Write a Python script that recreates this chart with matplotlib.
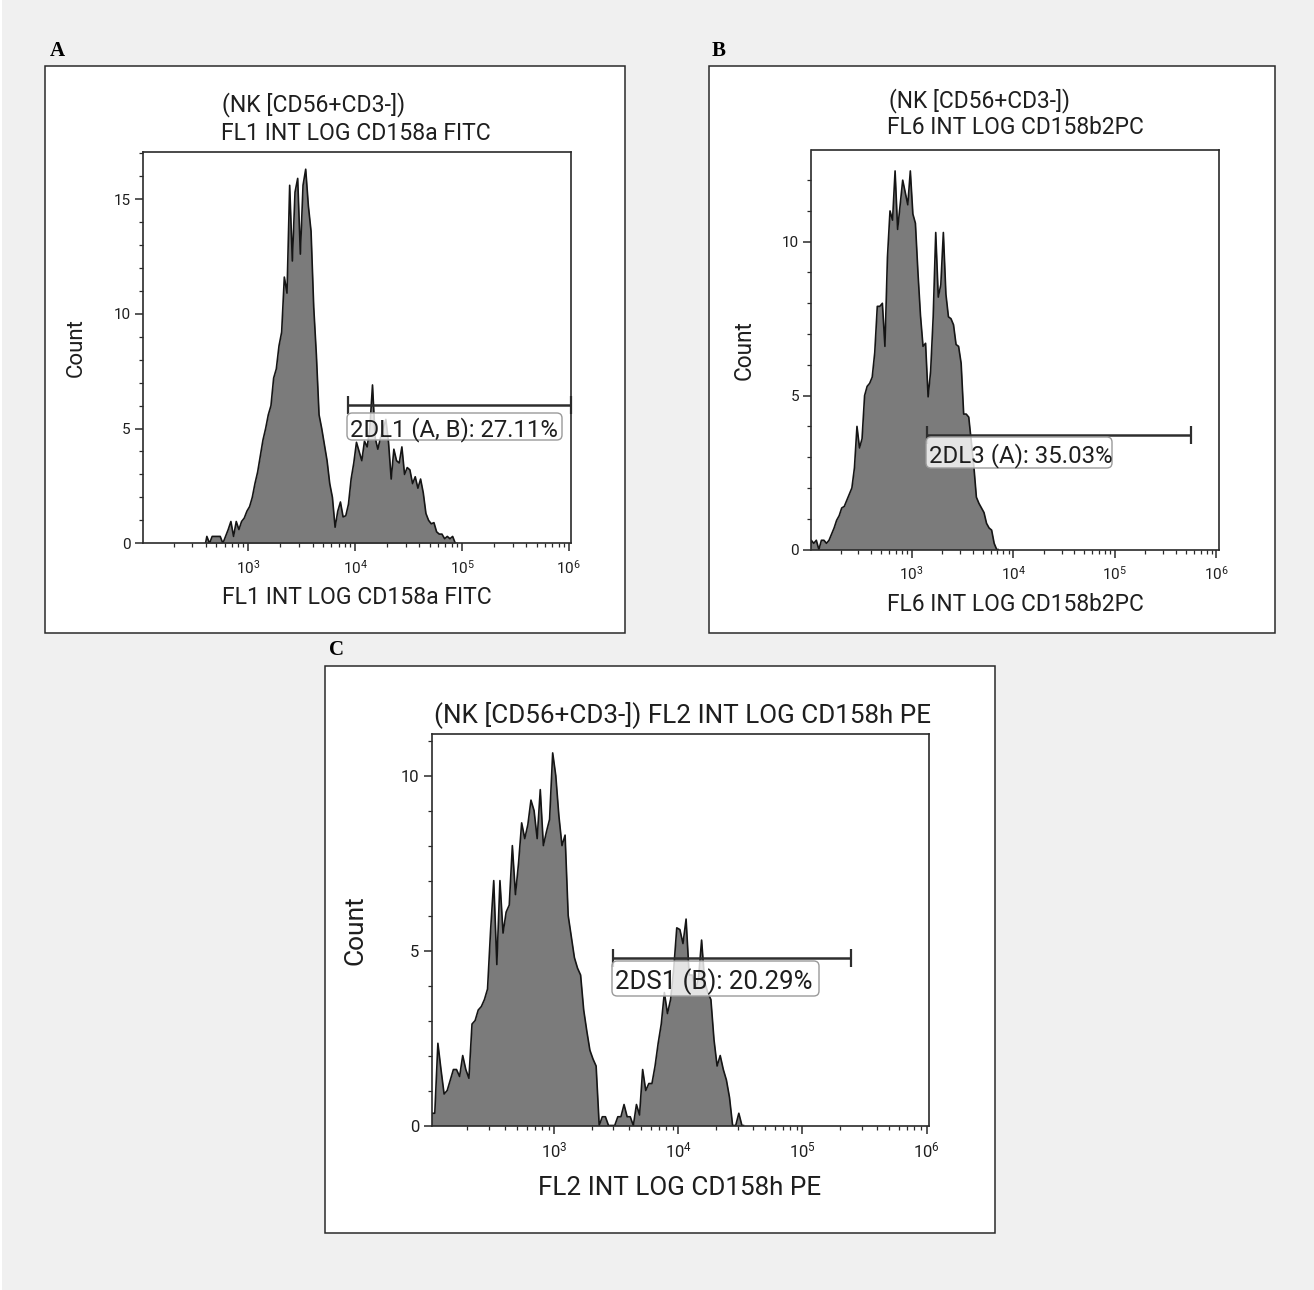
import numpy as np
import matplotlib
matplotlib.use('Agg')
from matplotlib import pyplot as plt
from matplotlib.patches import Rectangle, FancyBboxPatch
from matplotlib.ticker import LogLocator, MultipleLocator, FixedLocator, NullFormatter, FuncFormatter

plt.rcParams['font.family'] = ['Roboto', 'DejaVu Sans']
plt.rcParams['mathtext.fontset'] = 'custom'
plt.rcParams['mathtext.rm'] = 'Roboto'

W, H = 1314, 1290

# histogram counts, bins of 0.025 decade starting at the given log10 value
BIN = 0.025
a_start = 2.6
a_counts = [0.3, 0.0, 0.3, 0.3, 0.3, 0.3, 0.0, 0.3,
            0.6, 0.95, 0.3, 0.95, 0.6, 0.95, 1.1, 1.4,
            1.6, 2.0, 2.6, 3.1, 3.8, 4.5, 5.0, 5.6,
            6.0, 7.2, 7.6, 8.6, 9.2, 11.6, 10.9, 15.6,
            12.3, 15.3, 15.9, 12.6, 15.6, 16.3, 14.7, 13.6,
            10.3, 8.2, 5.6, 5.0, 4.3, 3.6, 2.6, 2.0,
            0.7, 1.4, 1.8, 1.15, 1.2, 1.7, 2.8, 3.5,
            4.4, 4.0, 3.6, 4.45, 4.2, 5.0, 6.9, 4.6,
            4.1, 4.6, 5.0, 5.4, 4.4, 2.8, 4.1, 3.6,
            3.5, 4.2, 3.0, 3.3, 3.2, 2.6, 2.9, 2.4,
            2.8, 2.2, 1.3, 1.0, 0.85, 0.9, 0.5, 0.4,
            0.4, 0.2, 0.3, 0.2, 0.3, 0.0]

b_start = 2.0
b_counts = [0.3, 0.2, 0.3, 0.0, 0.3, 0.3, 0.2, 0.3,
            0.5, 0.7, 0.95, 1.1, 1.35, 1.4, 1.6, 1.8,
            2.0, 2.65, 4.0, 3.3, 3.6, 5.0, 5.3, 5.4,
            5.6, 6.4, 7.9, 7.9, 8.0, 6.6, 9.5, 11.0,
            10.7, 12.3, 10.4, 11.2, 12.0, 11.6, 11.2, 12.3,
            10.9, 10.6, 9.0, 7.6, 6.6, 6.7, 4.96, 5.8,
            7.56, 10.3, 8.2, 8.6, 10.3, 8.3, 7.56, 7.5,
            7.3, 6.66, 6.6, 6.05, 4.4, 4.4, 4.3, 3.5,
            2.7, 1.7, 1.5, 1.35, 1.2, 0.85, 0.7, 0.63,
            0.2, 0.0]

c_start = 2.0
c_counts = [0.35, 0.35, 2.35, 1.6, 0.9, 1.0, 1.3, 1.6,
            1.6, 1.4, 2.0, 1.6, 1.35, 2.9, 3.0, 3.3,
            3.4, 3.6, 3.9, 5.6, 7.0, 4.6, 7.0, 5.5,
            6.1, 6.3, 8.0, 6.6, 7.5, 8.65, 8.2, 8.6,
            9.3, 9.0, 8.2, 9.6, 8.0, 8.4, 8.75, 10.65,
            10.0, 8.85, 8.0, 8.3, 6.0, 5.4, 4.8, 4.5,
            4.3, 3.3, 2.7, 2.15, 1.9, 1.7, 0.0, 0.25,
            0.25, 0.0, 0.0, 0.0, 0.25, 0.25, 0.6, 0.25,
            0.25, 0.0, 0.6, 0.3, 1.6, 1.0, 1.2, 1.2,
            1.7, 2.35, 2.9, 3.8, 3.2, 3.6, 4.45, 5.65,
            5.6, 5.2, 5.9, 4.3, 4.3, 3.9, 4.2, 5.3,
            4.1, 3.8, 3.6, 2.45, 1.7, 2.0, 1.6, 1.3,
            0.8, 0.0, 0.0, 0.35, 0.0]

# gates: (low, high, level) and labels
a_gate = (8.5e3, 1.05e6, 6.04)
b_gate = (1.42e3, 5.6e5, 3.72)
c_gate = (2.95e3, 2.45e5, 4.79)
a_gate_label = '2DL1 (A, B): 27.11%'
b_gate_label = '2DL3 (A): 35.03%'
c_gate_label = '2DS1 (B): 20.29%'

a_title = ['(NK [CD56+CD3-])', 'FL1 INT LOG CD158a FITC']
b_title = ['(NK [CD56+CD3-])', 'FL6 INT LOG CD158b2PC']
c_title = ['(NK [CD56+CD3-]) FL2 INT LOG CD158h PE']
a_xlabel = 'FL1 INT LOG CD158a FITC'
b_xlabel = 'FL6 INT LOG CD158b2PC'
c_xlabel = 'FL2 INT LOG CD158h PE'

a_yticks = [0, 5, 10, 15]
b_yticks = [0, 5, 10]
c_yticks = [0, 5, 10]
xticks = [1e3, 1e4, 1e5, 1e6]

DARK = '#1e1e1e'

fig = plt.figure(figsize=(W / 100, H / 100), dpi=100, facecolor='#f0f0f0')


def frac(x, y):
    return x / W, 1 - y / H


def box(x0, y0, x1, y1, **kw):
    fig.patches.append(Rectangle(frac(x0, y1), (x1 - x0) / W, (y1 - y0) / H,
                                 transform=fig.transFigure, **kw))


def ftext(x, y, s, **kw):
    fx, fy = frac(x, y)
    fig.text(fx, fy, s, color=DARK, **kw)


def panel(ax_px, counts, start, ymax, yticks, gate, glabel, gbox, fs_tick, fs_gate):
    x0, y0, x1, y1 = ax_px
    ax = fig.add_axes([x0 / W, 1 - y1 / H, (x1 - x0) / W, (y1 - y0) / H])
    ax.patch.set_alpha(0)
    n = len(counts)
    centers = 10 ** (start + BIN * (np.arange(n) + 0.5))
    xs = np.concatenate([[10 ** start], centers, [10 ** (start + BIN * n)]])
    ys = np.concatenate([[0], counts, [0]])
    ax.fill_between(xs, ys, color='#7b7b7b', lw=0)
    ax.plot(xs, ys, color='#151515', lw=1.2)
    ax.set_xscale('log')
    ax.set_xlim(10 ** 2.015, 10 ** 6.02)
    ax.set_ylim(0, ymax)
    ax.xaxis.set_major_locator(FixedLocator(xticks))
    ax.xaxis.set_minor_locator(LogLocator(base=10, subs=np.arange(2, 10)))
    ax.xaxis.set_minor_formatter(NullFormatter())
    ax.xaxis.set_major_formatter(FuncFormatter(
        lambda v, p: r'$\mathregular{10^{%d}}$' % round(np.log10(v))))
    ax.yaxis.set_major_locator(FixedLocator(yticks))
    ax.yaxis.set_minor_locator(MultipleLocator(1))
    ax.tick_params(which='major', direction='out', length=6, width=1.1,
                   color='#2a2a2a', labelsize=fs_tick, labelcolor=DARK, pad=3)
    ax.tick_params(which='minor', direction='out', length=3, width=0.9, color='#2a2a2a')
    ax.tick_params(axis='x', which='major', pad=5)
    for s in ax.spines.values():
        s.set_color('#2a2a2a')
        s.set_linewidth(1.2)
    lo, hi, lvl = gate
    ax.plot([lo, hi], [lvl, lvl], color='#2e2e2e', lw=1.8, marker='|', ms=13, mew=1.6,
            solid_capstyle='butt', clip_on=False)
    bx0, by0, bx1, by1 = gbox
    fx, fy = frac(bx0, by1)
    fig.patches.append(FancyBboxPatch((fx, fy), (bx1 - bx0) / W, (by1 - by0) / H,
                                      boxstyle='round,pad=0,rounding_size=0.004',
                                      transform=fig.transFigure, facecolor=(1, 1, 1, 0.8),
                                      edgecolor='#9a9a9a', lw=1.0, zorder=2))
    ftext(bx0 + 3, (by0 + by1) / 2, glabel, fontsize=fs_gate, ha='left', va='center_baseline',
          zorder=3)
    return ax


# page background and panel frames (behind the axes)
box(0, 0, 2, H, facecolor='white', edgecolor='none', zorder=-10)
box(45, 66, 625, 633, facecolor='white', edgecolor='#2a2a2a', lw=1.1, zorder=-10)
box(709, 66, 1275, 633, facecolor='white', edgecolor='#2a2a2a', lw=1.1, zorder=-10)
box(325, 666, 995, 1233, facecolor='white', edgecolor='#2a2a2a', lw=1.1, zorder=-10)

for (x, y, s) in [(50, 51, 'A'), (712, 51, 'B'), (329, 650, 'C')]:
    fx, fy = frac(x, y)
    fig.text(fx, fy, s, fontsize=15, fontweight='bold', family='Liberation Serif',
             color='black', ha='left', va='center')

panel((143, 152, 571, 543.3), a_counts, a_start, 17.05, a_yticks, a_gate,
      a_gate_label, (347, 413, 562, 440), 11, 17.2)
panel((811.5, 150, 1218.5, 549.5), b_counts, b_start, 12.98, b_yticks, b_gate,
      b_gate_label, (926, 437, 1112, 468), 11, 17.3)
panel((432, 734, 929, 1125.5), c_counts, c_start, 11.19, c_yticks, c_gate,
      c_gate_label, (612, 961, 819, 996), 12, 18.5)

# titles, axis labels
ftext(222, 105, a_title[0], fontsize=16.6, ha='left', va='center')
ftext(221, 133, a_title[1], fontsize=16.6, ha='left', va='center')
ftext(889, 101, b_title[0], fontsize=16.4, ha='left', va='center')
ftext(887, 128, b_title[1], fontsize=16.4, ha='left', va='center')
ftext(434, 715, c_title[0], fontsize=18.7, ha='left', va='center')

ftext(357, 598, a_xlabel, fontsize=16.6, ha='center', va='center')
ftext(1015, 604, b_xlabel, fontsize=16.4, ha='center', va='center')
ftext(680, 1188, c_xlabel, fontsize=18.7, ha='center', va='center')

ftext(76, 348, 'Count', fontsize=16, rotation=90, ha='center', va='center')
ftext(744, 350, 'Count', fontsize=16.3, rotation=90, ha='center', va='center')
ftext(356, 930, 'Count', fontsize=19, rotation=90, ha='center', va='center')

fig.savefig('out.png', dpi=100, facecolor=fig.get_facecolor())
